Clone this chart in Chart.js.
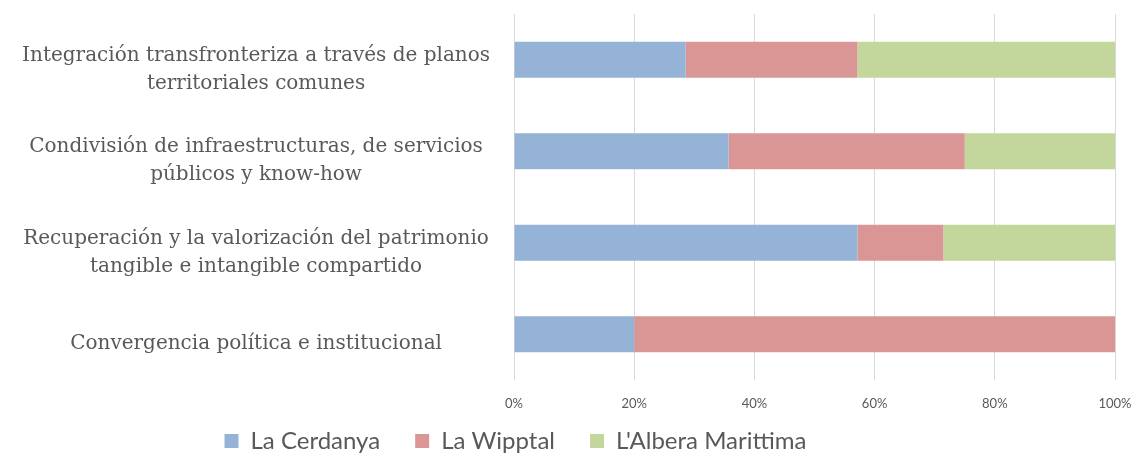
<!DOCTYPE html>
<html>
<head>
<meta charset="utf-8">
<script src="https://cdn.jsdelivr.net/npm/chart.js@4/dist/chart.umd.min.js"></script>
<style>
  html, body { margin: 0; padding: 0; background: #ffffff; }
  #wrap { width: 1142px; height: 456px; position: relative; }
</style>
</head>
<body>
<div id="wrap"><canvas id="c"></canvas></div>
<script>
const categories = [
  ["Integración transfronteriza a través de planos", "territoriales comunes"],
  ["Condivisión de infraestructuras, de servicios", "públicos y know-how"],
  ["Recuperación y la valorización del patrimonio", "tangible e intangible compartido"],
  ["Convergencia política e institucional"]
];
const seriesNames = ["La Cerdanya", "La Wipptal", "L'Albera Marittima"];
const cerdanya = [28.57, 35.71, 57.14, 20];
const wipptal  = [28.57, 39.29, 14.29, 80];
const albera   = [42.86, 25.00, 28.57, 0];
const xTickLabels = ["0%", "20%", "40%", "60%", "80%", "100%"];

const colors = ["#95b3d7", "#d99694", "#c3d69b"];
const textGray = "#595959";

const layoutTweak = {
  id: 'layoutTweak',
  afterLayout(chart) {
    const lg = chart.legend;
    if (lg) {
      lg.right -= 84;
      lg.top += 7;
      lg.bottom += 7;
    }
    const xs = chart.scales.x;
    if (xs) {
      xs.bottom = xs.top + 50;
      xs.height = 50;
    }
  }
};

new Chart(document.getElementById('c'), {
  type: 'bar',
  data: {
    labels: categories,
    datasets: [
      { label: seriesNames[0], data: cerdanya, backgroundColor: colors[0] },
      { label: seriesNames[1], data: wipptal,  backgroundColor: colors[1] },
      { label: seriesNames[2], data: albera,   backgroundColor: colors[2] }
    ]
  },
  options: {
    indexAxis: 'y',
    responsive: true,
    maintainAspectRatio: false,
    animation: false,
    datasets: { bar: { categoryPercentage: 0.392, barPercentage: 1.0, borderWidth: 0 } },
    layout: { padding: { top: 13, right: 27, left: 0, bottom: 0 } },
    scales: {
      x: {
        stacked: true,
        min: 0, max: 100,
        ticks: {
          stepSize: 20,
          color: textGray,
          font: { family: "Lato", size: 13 },
          padding: 0,
          callback: (v, i) => xTickLabels[i]
        },
        grid: { color: "#d9d9d9", drawTicks: true, tickLength: 16, tickColor: "rgba(0,0,0,0)", lineWidth: 1 },
        border: { display: false },
        afterFit(s) { s.height = 7; }
      },
      y: {
        stacked: true,
        ticks: {
          color: textGray,
          font: { family: "DejaVu Serif", size: 20, lineHeight: 1.4 },
          crossAlign: 'center',
          padding: 0,
          labelOffset: 10,
          autoSkip: false
        },
        grid: { display: false, drawTicks: true, tickLength: 24 },
        border: { display: false },
        afterFit(s) { s.width = 514; }
      }
    },
    plugins: {
      legend: {
        position: 'bottom',
        labels: {
          color: textGray,
          font: { family: "Lato", size: 24 },
          boxWidth: 14,
          boxHeight: 14,
          padding: 35
        }
      },
      tooltip: { enabled: false }
    }
  },
  plugins: [layoutTweak]
});
</script>
</body>
</html>
